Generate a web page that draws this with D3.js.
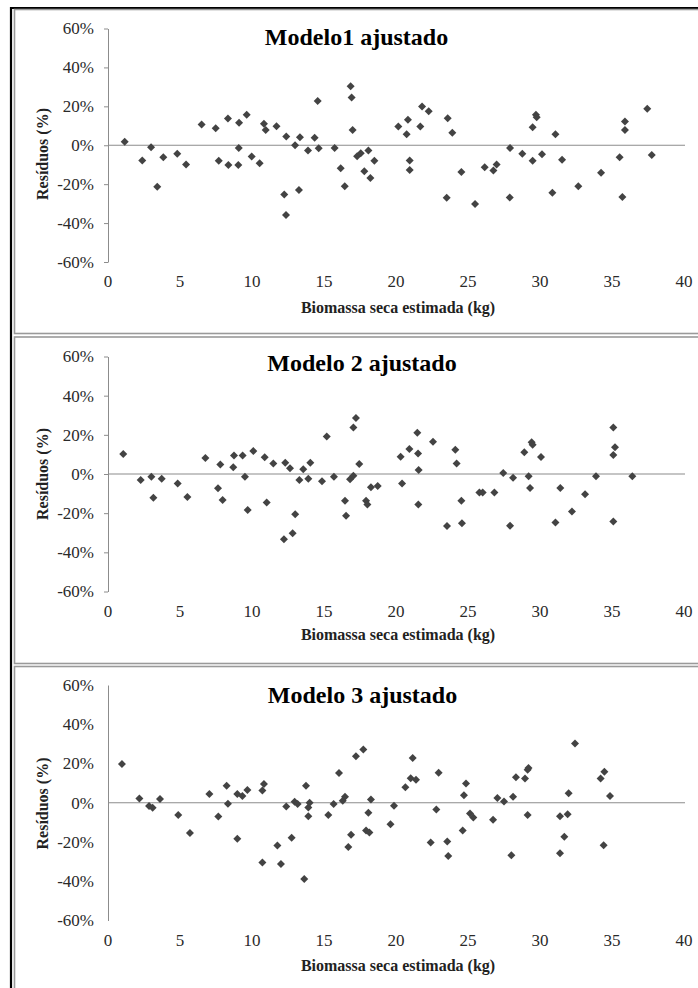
<!DOCTYPE html>
<html>
<head>
<meta charset="utf-8">
<script src="https://cdn.jsdelivr.net/npm/d3@7"></script>
<style>
  body { margin: 0; background: #fff; }
  text { font-family: "Liberation Serif", "Times New Roman", serif; }
</style>
</head>
<body>
<script>
// Data (x = estimated dry biomass in kg, y = residual in %)
const titles = ["Modelo1 ajustado", "Modelo 2 ajustado", "Modelo 3 ajustado"];
const xTicks = [0, 5, 10, 15, 20, 25, 30, 35, 40];
const yTicks = [-60, -40, -20, 0, 20, 40, 60];

const m1x = [1.16, 2.38, 2.99, 3.42, 3.84, 4.81, 5.42, 6.50, 7.48, 7.69, 8.33, 8.36, 9.10, 9.08, 9.05, 9.63,
    9.98, 10.53, 10.83, 10.95, 11.70, 12.24, 12.38, 12.36, 12.99, 13.26, 13.33, 13.89, 14.35, 14.56, 14.63,
    15.74, 16.16, 16.44, 16.85, 16.92, 16.99, 17.30, 17.55, 17.80, 18.08, 18.22, 18.50, 20.16, 20.74, 20.83,
    20.95, 20.95, 21.69, 21.81, 22.27, 23.52, 23.59, 23.91, 24.54, 25.49, 26.16, 26.76, 26.99, 27.90, 27.92,
    28.77, 29.49, 29.49, 29.72, 29.77, 30.14, 30.86, 31.07, 31.53, 32.66, 34.24, 35.53, 35.72, 35.90, 35.90,
    37.45, 37.76];
const m1y = [1.8, -7.9, -1.0, -21.3, -6.2, -4.4, -9.9, 10.7, 8.8, -8.0, 13.8, -10.1, 11.5, -1.4, -10.1, 15.7,
    -5.8, -9.3, 11.0, 7.9, 9.8, -25.3, 4.5, -35.9, 0.0, -23.0, 4.1, -2.7, 3.8, 22.7, -1.5,
    -1.4, -11.8, -21.1, 30.3, 24.6, 7.9, -5.7, -4.1, -13.4, -2.7, -16.8, -8.0, 9.6, 5.7, 13.1,
    -7.9, -12.7, 9.6, 19.9, 17.5, -27.0, 13.9, 6.4, -13.7, -30.2, -11.3, -13.0, -9.9, -26.8, -1.4,
    -4.4, -8.0, 9.3, 15.7, 14.4, -4.6, -24.4, 5.7, -7.5, -21.1, -14.1, -6.2, -26.6, 12.2, 7.9,
    18.8, -5.0];

const m2x = [1.06, 2.27, 3.01, 3.15, 3.73, 4.84, 5.51, 6.76, 7.64, 7.80, 7.96, 8.70, 8.75, 9.35, 9.51, 9.70,
    10.09, 10.88, 11.02, 11.48, 12.22, 12.31, 12.64, 12.82, 13.00, 13.29, 13.56, 13.91, 14.05, 14.86, 15.19,
    15.69, 16.46, 16.53, 16.81, 17.04, 17.04, 17.22, 17.45, 17.92, 18.01, 18.26, 18.73, 20.32, 20.42, 20.93,
    21.48, 21.53, 21.57, 21.55, 22.57, 23.54, 24.12, 24.21, 24.54, 24.58, 25.79, 26.02, 26.83, 27.45, 27.92,
    28.13, 28.91, 29.21, 29.31, 29.42, 29.49, 30.07, 31.07, 31.41, 32.22, 33.13, 33.89, 35.09, 35.21, 35.09,
    35.09, 36.41];
const m2y = [10.2, -3.1, -1.4, -12.1, -2.4, -4.9, -11.7, 8.2, -7.3, 4.9, -13.3, 3.4, 9.4, 9.4, -1.4, -18.4,
    11.7, 8.5, -14.5, 5.4, -33.3, 5.8, 2.9, -30.3, -20.6, -3.1, 2.4, -2.4, 5.8, -3.7, 19.2,
    -1.4, -13.6, -21.3, -2.7, -0.9, 23.8, 28.6, 5.1, -13.6, -15.6, -6.8, -6.1, 8.8, -4.8, 12.8,
    21.1, 10.5, 2.0, -15.6, 16.5, -26.5, 12.4, 5.4, -13.6, -25.2, -9.4, -9.4, -9.4, 0.5, -26.4,
    -1.9, 11.1, -1.2, -7.1, 16.2, 15.0, 8.7, -24.8, -7.1, -19.2, -10.4, -1.2, 23.8, 13.6, 9.7,
    -24.3, -1.2];

const m3x = [0.97, 2.18, 2.85, 3.10, 3.61, 4.88, 5.69, 7.04, 7.66, 8.24, 8.33, 8.98, 8.98, 9.33, 9.68, 10.72,
    10.83, 10.72, 11.76, 12.01, 12.38, 12.75, 12.96, 13.17, 13.63, 13.75, 13.91, 13.91, 14.00, 15.30, 15.67,
    16.04, 16.30, 16.46, 16.69, 16.88, 17.22, 17.73, 17.92, 18.08, 18.15, 18.26, 19.62, 19.86, 20.65, 21.02,
    21.16, 21.39, 22.41, 22.80, 22.96, 23.56, 23.63, 24.63, 24.72, 24.86, 25.14, 25.37, 26.74, 27.04, 27.50,
    28.01, 28.13, 28.33, 28.96, 29.14, 29.20, 29.14, 31.39, 31.39, 31.69, 31.92, 31.99, 32.43, 34.21, 34.47,
    34.42, 34.86];
const m3y = [19.7, 2.2, -1.7, -2.6, 1.9, -6.3, -15.4, 4.5, -7.0, 8.6, -0.5, -18.4, 4.5, 3.4, 6.5, 6.3,
    9.6, -30.4, -21.8, -31.2, -1.9, -17.8, 0.5, -0.7, -38.9, 8.6, -2.4, -6.9, 0.0, -6.2, -0.7,
    15.1, 1.0, 3.1, -22.6, -16.3, 23.7, 27.1, -14.2, -5.1, -15.1, 1.7, -11.0, -1.5, 7.9, 12.5,
    22.8, 11.7, -20.2, -3.4, 15.3, -19.7, -27.1, -14.1, 3.8, 9.8, -5.5, -7.5, -8.6, 2.4, 0.7,
    -26.8, 3.1, 13.0, 12.3, 16.8, 17.7, -6.3, -25.7, -6.9, -17.3, -5.8, 4.8, 30.2, 12.3, 15.8,
    -21.6, 3.4];

const seriesX = [m1x, m2x, m3x];
const seriesY = [m1y, m2y, m3y];

// Layout
const width = 698;
const height = 988;
const plotLeft = 108;
const plotRight = 684;
const panelTops = [9.5, 337, 666.5];
const panelBottoms = [333.5, 663.5, 1000];
const axisTops = [28.5, 356.5, 685];
const axisBottoms = [262, 591.5, 920.5];
const titleBase = [45, 370.5, 702.5];
const titleX = [356.5, 362, 362.5];
const yTitleY = [154, 474, 803.5];
const xTitleBase = [313, 640, 971];
const tickLen = [4, 4, 0];

const svg = d3.select("body")
    .append("svg")
    .attr("width", width)
    .attr("height", height);

// Outer black frame (left and top)
svg.append("path")
    .attr("d", `M11,${height} V8 H${width}`)
    .attr("fill", "none")
    .attr("stroke", "#000")
    .attr("stroke-width", 2.2);

const x = d3.scaleLinear().domain([0, 40]).range([plotLeft, plotRight]);

for (let p = 0; p < 3; p++) {
    const g = svg.append("g");
    const y = d3.scaleLinear().domain([-60, 60]).range([axisBottoms[p], axisTops[p]]);

    // Panel border (gray)
    g.append("rect")
        .attr("x", 14.5)
        .attr("y", panelTops[p])
        .attr("width", width + 10)
        .attr("height", panelBottoms[p] - panelTops[p])
        .attr("fill", "none")
        .attr("stroke", "#9a9a9a")
        .attr("stroke-width", 1.6);

    // Y axis
    const yAxis = g.append("g")
        .attr("transform", `translate(${plotLeft},0)`)
        .call(d3.axisLeft(y).tickValues(yTicks).tickSize(tickLen[p]).tickSizeOuter(0)
            .tickPadding(14 - tickLen[p]).tickFormat((d) => d + "%"));
    yAxis.select(".domain").attr("stroke", "#8c8c8c");
    yAxis.selectAll(".tick line").attr("stroke", "#8c8c8c");
    yAxis.selectAll(".tick text")
        .attr("fill", "#2a2a2a")
        .attr("font-size", "17px");

    // Zero reference line
    g.append("line")
        .attr("x1", plotLeft)
        .attr("x2", plotRight + 1)
        .attr("y1", y(0))
        .attr("y2", y(0))
        .attr("stroke", "#8c8c8c")
        .attr("stroke-width", 1.2);

    // X tick labels (no axis line in the original)
    g.append("g")
        .selectAll("text")
        .data(xTicks)
        .join("text")
        .attr("x", (d) => x(d))
        .attr("y", axisBottoms[p] + 25)
        .attr("text-anchor", "middle")
        .attr("fill", "#2a2a2a")
        .attr("font-size", "17px")
        .text((d) => d);

    // Points
    g.append("g")
        .selectAll("path")
        .data(d3.range(seriesX[p].length))
        .join("path")
        .attr("d", d3.symbol(d3.symbolSquare, 32))
        .attr("transform", (i) => `translate(${x(seriesX[p][i])},${y(seriesY[p][i])}) rotate(45)`)
        .attr("fill", "#434343");

    // Chart title
    g.append("text")
        .attr("x", titleX[p])
        .attr("y", titleBase[p])
        .attr("text-anchor", "middle")
        .attr("font-size", "24px")
        .attr("font-weight", "bold")
        .attr("fill", "#000")
        .text(titles[p]);

    // Axis titles
    g.append("text")
        .attr("transform", `translate(48,${yTitleY[p]}) rotate(-90)`)
        .attr("text-anchor", "middle")
        .attr("font-size", "16px")
        .attr("font-weight", "bold")
        .attr("fill", "#222")
        .text("Resíduos (%)");

    g.append("text")
        .attr("x", 398)
        .attr("y", xTitleBase[p])
        .attr("text-anchor", "middle")
        .attr("font-size", "16px")
        .attr("font-weight", "bold")
        .attr("fill", "#222")
        .text("Biomassa seca estimada (kg)");
}
</script>
</body>
</html>
